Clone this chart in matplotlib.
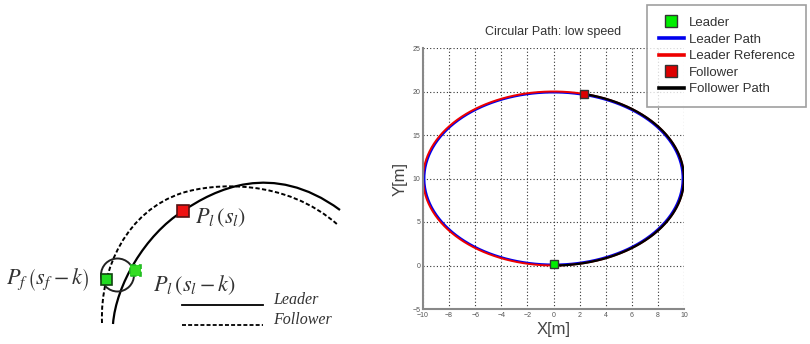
import numpy as np
import matplotlib.pyplot as plt
from matplotlib.path import Path
from matplotlib.patches import PathPatch, Circle, Rectangle

plt.rcParams['font.family'] = ['Liberation Sans', 'DejaVu Sans']
plt.rcParams['mathtext.fontset'] = 'stix'

# ---- right panel data: circular path, low speed ----
center = (0.0, 10.0)
ref_radius = 10.0
leader_radius = 9.9
leader_pos = (0.0, 0.15)
follower_pos = (2.3, 19.7)
start_angle = -90.0
follower_angle = 76.7
xticks = [-10, -8, -6, -4, -2, 0, 2, 4, 6, 8, 10]
yticks = [-5, 0, 5, 10, 15, 20, 25]

# ---- left panel data: schematic (pixel coords, bezier control points) ----
leader_curve = [(113, 324), (116, 285), (145, 235), (183, 211),
                (214, 190), (272, 160), (340, 210)]
follower_curve = [(102, 323), (100, 268), (127, 211), (182, 193),
                  (214, 183), (285, 178), (338, 225)]
circle_c = (117.5, 275)
circle_r = 16.5
pf_pos = (106, 279)
pl_k_pos = (135, 270)
pl_pos = (183, 211)

fig = plt.figure(figsize=(8.1, 3.44), dpi=100)

# ---------------- left schematic ----------------
axl = fig.add_axes([0, 0, 0.46, 1])
axl.set_xlim(0, 0.46 * 810)
axl.set_ylim(344, 0)
axl.axis('off')

codes = [Path.MOVETO] + [Path.CURVE4] * 6
axl.add_patch(PathPatch(Path(leader_curve, codes), fill=False, lw=1.6, color='black'))
axl.add_patch(PathPatch(Path(follower_curve, codes), fill=False, lw=1.4,
                        color='black', linestyle=(0, (2.2, 1.2))))
axl.add_patch(Circle(circle_c, circle_r, fill=False, lw=1.4, color='#222222'))

s = 11
axl.add_patch(Rectangle((pl_k_pos[0] - s / 2, pl_k_pos[1] - s / 2), s, s,
                        facecolor='#33dd22', edgecolor='#22bb22', lw=1.2, ls='--', zorder=5))
axl.add_patch(Rectangle((pf_pos[0] - s / 2, pf_pos[1] - s / 2), s, s,
                        facecolor='#22dd22', edgecolor='#114411', lw=1.2, zorder=5))
axl.add_patch(Rectangle((pl_pos[0] - 6, pl_pos[1] - 6), 12, 12,
                        facecolor='#ee1111', edgecolor='#551111', lw=1.2, zorder=5))

tcol = '#333333'
axl.text(195, 218, r'$P_l\,\left(s_l\right)$', fontsize=16, va='center', color=tcol)
axl.text(6, 280, r'$P_f\,\left(s_f-k\right)$', fontsize=16, va='center', color=tcol)
axl.text(153, 285, r'$P_l\,\left(s_l-k\right)$', fontsize=16, va='center', color=tcol)

axl.plot([182, 263], [305, 305], color='black', lw=1.3)
axl.plot([182, 263], [325, 325], color='black', lw=1.3, linestyle=(0, (2.2, 1.2)))
axl.text(273, 300, 'Leader', fontsize=11.5, style='italic', family='Liberation Serif',
         va='center', color=tcol)
axl.text(273, 320, 'Follower', fontsize=11.5, style='italic', family='Liberation Serif',
         va='center', color=tcol)

# ---------------- right plot ----------------
ax = fig.add_axes([423 / 810, 1 - 309 / 344, 261 / 810, 261 / 344])

t_full = np.radians(np.linspace(start_angle, start_angle + 360, 400))
t_fol = np.radians(np.linspace(start_angle, follower_angle, 300))

ax.plot(center[0] + leader_radius * np.cos(t_full), center[1] + leader_radius * np.sin(t_full),
        color='#0000ee', lw=1.6, label='Leader Path')
ax.plot(center[0] + ref_radius * np.cos(t_full), center[1] + ref_radius * np.sin(t_full),
        color='#ee0000', lw=1.4, label='Leader Reference')
ax.plot(center[0] + ref_radius * np.cos(t_fol), center[1] + ref_radius * np.sin(t_fol),
        color='black', lw=1.6, label='Follower Path')
ax.plot(*leader_pos, 's', ms=6, mfc='#00ee00', mec='#333333', mew=1, label='Leader', zorder=6)
ax.plot(*follower_pos, 's', ms=6, mfc='#dd0000', mec='#333333', mew=1, label='Follower', zorder=6)

ax.set_xlim(-10, 10)
ax.set_ylim(-5, 25)
ax.set_xticks(xticks)
ax.set_yticks(yticks)
ax.tick_params(labelsize=5, colors='#555555', length=0, pad=2)
ax.grid(True, color='#333333', linestyle=(0, (1, 2)), lw=0.8)
for sp in ['top', 'right']:
    ax.spines[sp].set_visible(False)
for sp in ['left', 'bottom']:
    ax.spines[sp].set_color('#888888')
    ax.spines[sp].set_linewidth(1.5)

ax.set_title('Circular Path: low speed', fontsize=9, color='#333333', pad=9)
ax.set_xlabel('X[m]', fontsize=12, color='#444444', labelpad=2)
ax.set_ylabel('Y[m]', fontsize=12, color='#444444', labelpad=3)

h, l = ax.get_legend_handles_labels()
order = ['Leader', 'Leader Path', 'Leader Reference', 'Follower', 'Follower Path']
hh = [h[l.index(o)] for o in order]
leg = fig.legend(hh, order, loc='upper left', bbox_to_anchor=(647 / 810, 1 - 5 / 344),
                 fontsize=9.5, frameon=True, fancybox=False, borderaxespad=0,
                 handlelength=1.9, labelspacing=0.33, borderpad=0.9, handletextpad=0.35,
                 markerscale=1.4)
leg.get_frame().set_edgecolor('#888888')
leg.get_frame().set_linewidth(1.2)
for hd in leg.legend_handles:
    hd.set_linewidth(2.6)
for txt in leg.get_texts():
    txt.set_color('#333333')

fig.savefig('out.png', dpi=100)
